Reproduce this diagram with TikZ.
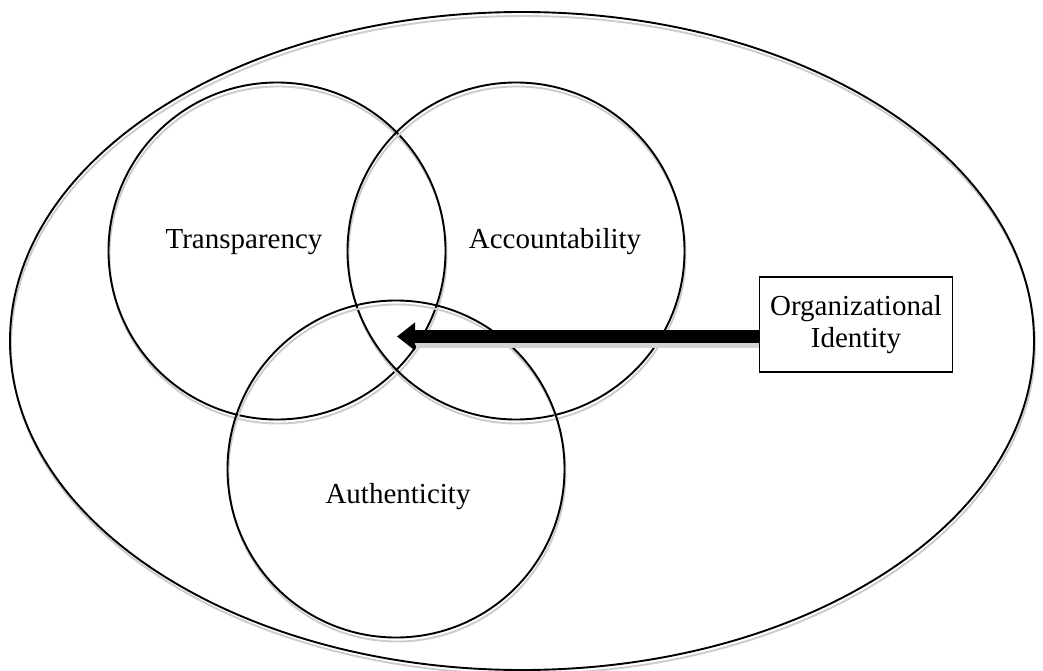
\documentclass[tikz,border=0pt]{standalone}
\usepackage{fontspec}
\setmainfont{Liberation Serif}
\usetikzlibrary{shapes.geometric,shadows,arrows.meta}

\tikzset{
  outline/.style={draw=black, line width=1.9pt, inner sep=0pt,
    drop shadow={fill=none, draw=gray!40, opacity=1,
                 shadow xshift=1pt, shadow yshift=-4pt}},
  ring/.style={outline, circle, minimum size=337pt},
  field/.style={outline, ellipse, minimum width=1024pt, minimum height=658pt},
  term/.style={font=\fontsize{29}{33}\selectfont, inner sep=0pt},
  idbox/.style={draw=black, line width=1.9pt, fill=white, rectangle,
    minimum width=193pt, minimum height=95pt, align=center,
    font=\fontsize{29}{32}\selectfont},
  push/.style={line width=13pt, -{Triangle[length=18pt,width=27pt]}},
  pushshadow/.style={line width=5pt, draw=gray!35}
}

\begin{document}
\begin{tikzpicture}[x=1pt,y=-1pt]
  \useasboundingbox (0,0) rectangle (1043,671);

  % surrounding field
  \node[field] (env) at (522,341) {};

  % the three overlapping circles
  \node[ring] (trans) at (277,251) {};
  \node[ring] (acct)  at (516,251) {};
  \node[ring] (auth)  at (396,469) {};

  \node[term] (transL) at (244,242) {Transparency};
  \node[term] (acctL)  at (555,242) {Accountability};
  \node[term] (authL)  at (398,497) {Authenticity};

  % identity box and the arrow into the centre
  \node[idbox] (idbox) at (856,324.5) {Organizational\\Identity};
  \coordinate (tip) at (397,336.5);
  \coordinate (shadowend) at (416,345.5);
  \draw[pushshadow] ([yshift=-21pt]idbox.west) -- (shadowend);
  \draw[push] ([yshift=-12pt]idbox.west) -- (tip);
\end{tikzpicture}
\end{document}
